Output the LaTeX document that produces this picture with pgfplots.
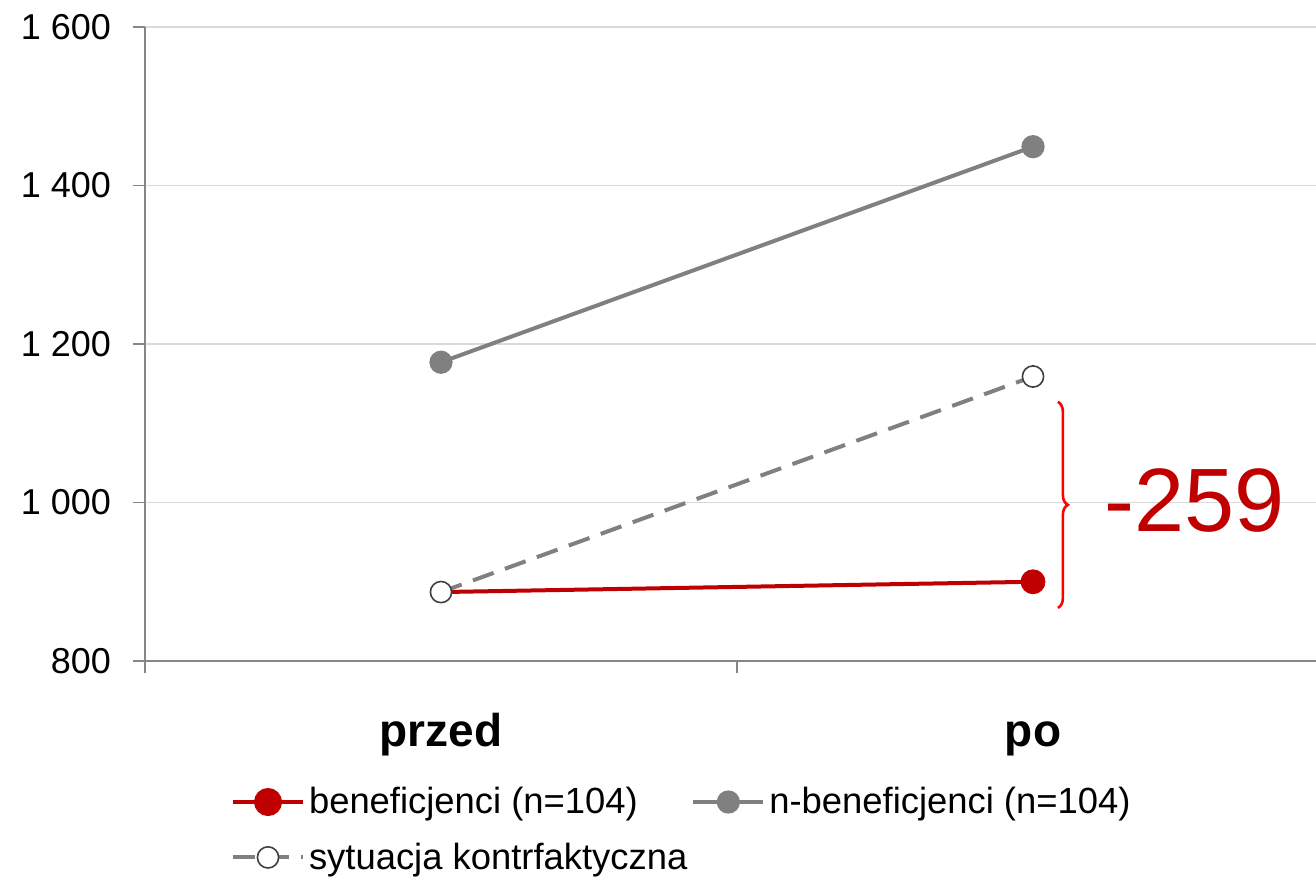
\documentclass[border=0pt]{standalone}
\usepackage{fontspec}
\setmainfont{Liberation Sans}
\usepackage{pgfplots}
\pgfplotsset{compat=1.18}
\usetikzlibrary{decorations.pathreplacing}
\definecolor{cred}{HTML}{C00000}
\definecolor{cgrey}{HTML}{808080}
\definecolor{cgrid}{HTML}{D9D9D9}
\definecolor{caxis}{HTML}{868686}
\begin{document}
\begin{tikzpicture}[x=1pt,y=1pt]
\useasboundingbox (0,0) rectangle (658,-439);
\begin{axis}[
 at={(72.5pt,-330.5pt)}, anchor=south west,
 scale only axis, width=585.5pt, height=317pt,
 xmin=0, xmax=1.978, ymin=800, ymax=1600,
 clip=false,
 axis lines=left, axis line style={-, caxis, line width=0.9pt},
 ytick={800,1000,1200,1400,1600},
 yticklabels={800,1 000,1 200,1 400,1 600},
 ymajorgrids, grid style={cgrid, line width=0.8pt},
 tick align=outside, major tick length=6pt, tick style={caxis, line width=0.9pt},
 yticklabel style={font=\fontsize{18}{20}\selectfont, xshift=-7.5pt},
 xtick={0,1,2}, xticklabels={},
 extra x ticks={0.5,1.5}, extra x tick labels={przed,po},
 extra x tick style={major tick length=0pt, xticklabel style={font=\fontsize{23}{26}\selectfont\bfseries, text height=17pt, text depth=5pt, yshift=-22pt}},
 legend columns=2,
 legend cell align=left,
 legend style={draw=none, fill=none, at={(0.068,-0.186)}, anchor=north west,
   font=\fontsize{18.2}{20}\selectfont, row sep=9pt,
   /tikz/every even column/.append style={column sep=0pt}},
 legend image code/.code={\draw[mark repeat=2, mark phase=2] plot coordinates {(0pt,0pt)(17.5pt,0pt)(35pt,0pt)};},
]
\addplot[cred, line width=2pt, no marks, forget plot] coordinates {(0.5,887)(1.5,900)};
\addplot[cred, only marks, mark=*, mark size=6pt, mark options={fill=cred, draw=cred, solid}, forget plot] coordinates {(1.5,900)};
\addlegendimage{cred, line width=2pt, mark=*, mark size=6pt, mark options={fill=cred, draw=cred, solid}}
\addlegendentry{beneficjenci (n=104)}
\addplot[cgrey, line width=2pt, mark=*, mark size=4.8pt, mark options={fill=cgrey, draw=cgrey, solid}] coordinates {(0.5,1177)(1.5,1449)};
\addlegendentry{n-beneficjenci (n=104)}
\addplot[cgrey, line width=2pt, dash pattern=on 11pt off 6pt, mark=*, mark size=5.3pt, mark options={fill=white, draw=black!75, line width=0.8pt, solid}] coordinates {(0.5,887)(1.5,1159)};
\addlegendentry{sytuacja kontrfaktyczna}
\draw[red, line width=1.3pt, decorate, decoration={brace, amplitude=5pt}] (axis cs:1.542,1127) -- (axis cs:1.542,867);
\node[text=cred, font=\fontsize{45}{50}\selectfont, anchor=west, inner sep=0pt] at (axis cs:1.62,1003) {-259};
\end{axis}
\end{tikzpicture}
\end{document}
